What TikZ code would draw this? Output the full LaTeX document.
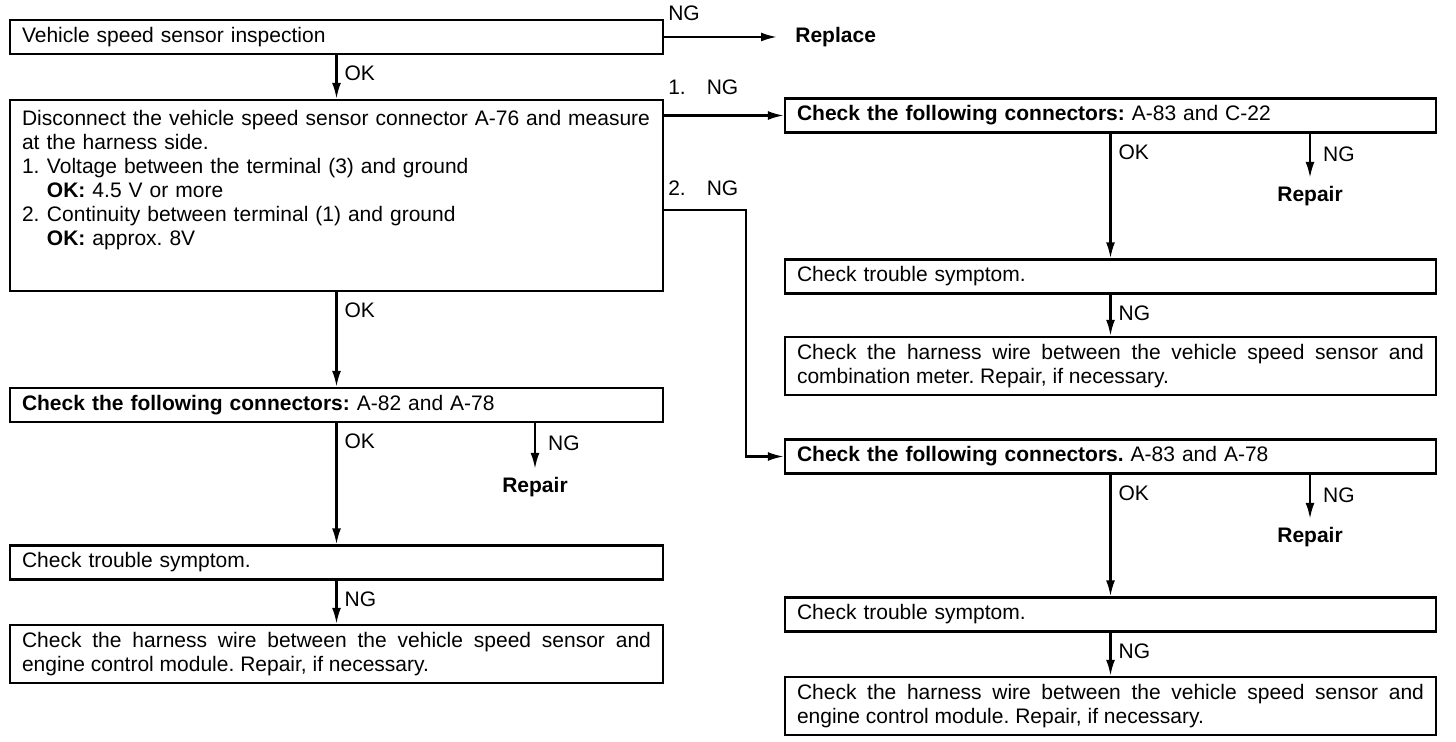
\documentclass[tikz,border=0pt]{standalone}
\usepackage{fontspec}
\setmainfont{Liberation Sans}
\usetikzlibrary{arrows.meta}
\frenchspacing
\tikzset{
  txt/.style={font=\fontsize{10.5}{12}\selectfont},
  box/.style={txt, draw, line width=1.2pt, inner xsep=6pt, inner ysep=2pt, align=left},
  lbox/.style={box, text width=314.5pt},
  rbox/.style={box, text width=313.5pt},
  one/.style={minimum height=17pt},
  two/.style={minimum height=29pt, align=justify},
  arr/.style={-{Latex[length=8pt,width=4.5pt]}, line width=1.1pt},
  lbl/.style={txt, inner sep=1.5pt, anchor=north west, xshift=2pt, yshift=-3.5pt},
  side/.style={txt, inner sep=1.5pt, anchor=north west, xshift=4.5pt, yshift=-4.5pt},
  res/.style={txt, font=\fontsize{10.5}{12}\selectfont\bfseries, inner xsep=2pt, inner ysep=4pt}
}
\begin{document}
\begin{tikzpicture}[x=0.5pt, y=-0.5pt]
  \useasboundingbox (0,0) rectangle (1456,742);
  % left column
  \node[lbox, one] (insp) at (336.5,37) {Vehicle speed sensor inspection};
  \node[lbox, minimum height=95.5pt] (meas) at (336.5,195.5) {Disconnect the vehicle speed sensor connector A-76 and measure\\
    at the harness side.\\
    \makebox[12.5pt][l]{1.}Voltage between the terminal (3) and ground\\
    \hspace*{12.5pt}\textbf{OK:} 4.5 V or more\\
    \makebox[12.5pt][l]{2.}Continuity between terminal (1) and ground\\
    \hspace*{12.5pt}\textbf{OK:} approx. 8V\\[6pt]
    \mbox{}};
  \node[lbox, one] (conL) at (336.5,405) {\textbf{Check the following connectors:} A-82 and A-78};
  \node[lbox, one] (symL) at (336.5,562.5) {Check trouble symptom.};
  \node[lbox, two] (wireL) at (336.5,654) {Check the harness wire between the vehicle speed sensor and\linebreak engine control module. Repair, if necessary.};
  \node[res, anchor=west, inner xsep=9pt] (repl) at (777,37) {Replace};
  \node[res] (repL) at (535,487) {Repair};
  % right column
  \node[rbox, one] (conA) at (1110.5,115.5) {\textbf{Check the following connectors:} A-83 and C-22};
  \node[res] (repA) at (1310,196) {Repair};
  \node[rbox, one] (symA) at (1110.5,276.5) {Check trouble symptom.};
  \node[rbox, two] (wireA) at (1110.5,366) {Check the harness wire between the vehicle speed sensor and\linebreak combination meter. Repair, if necessary.};
  \node[rbox, one] (conB) at (1110.5,456.5) {\textbf{Check the following connectors.} A-83 and A-78};
  \node[res] (repB) at (1310,537) {Repair};
  \node[rbox, one] (symB) at (1110.5,614.5) {Check trouble symptom.};
  \node[rbox, two] (wireB) at (1110.5,706) {Check the harness wire between the vehicle speed sensor and\linebreak engine control module. Repair, if necessary.};
  % connectors
  \draw[arr] (insp.east) -- (repl.west) node[txt, pos=0, anchor=south west, inner sep=1.5pt, yshift=6pt] {NG};
  \draw[arr] (insp.south) -- (meas.north) node[lbl, pos=0] {OK};
  \draw[arr] (conA.west -| meas.east) -- (conA.west) node[txt, pos=0, anchor=south west, inner sep=1.5pt, yshift=8.5pt] {1.\quad NG};
  \draw[arr] ([yshift=-7.25pt]meas.east) -- ++(82,0) node[txt, pos=0, anchor=south west, inner sep=1.5pt, yshift=5pt] {2.\quad NG} |- (conB.west);
  \draw[arr] (meas.south) -- (conL.north) node[lbl, pos=0] {OK};
  \draw[arr] (conL.south) -- (symL.north) node[lbl, pos=0] {OK};
  \draw[arr] (conL.south -| repL.north) -- (repL.north) node[side, pos=0] {NG};
  \draw[arr] (symL.south) -- (wireL.north) node[lbl, pos=0] {NG};
  \draw[arr] (conA.south) -- (symA.north) node[lbl, pos=0] {OK};
  \draw[arr] (conA.south -| repA.north) -- (repA.north) node[side, pos=0] {NG};
  \draw[arr] (symA.south) -- (wireA.north) node[lbl, pos=0] {NG};
  \draw[arr] (conB.south) -- (symB.north) node[lbl, pos=0] {OK};
  \draw[arr] (conB.south -| repB.north) -- (repB.north) node[side, pos=0] {NG};
  \draw[arr] (symB.south) -- (wireB.north) node[lbl, pos=0] {NG};
\end{tikzpicture}
\end{document}
